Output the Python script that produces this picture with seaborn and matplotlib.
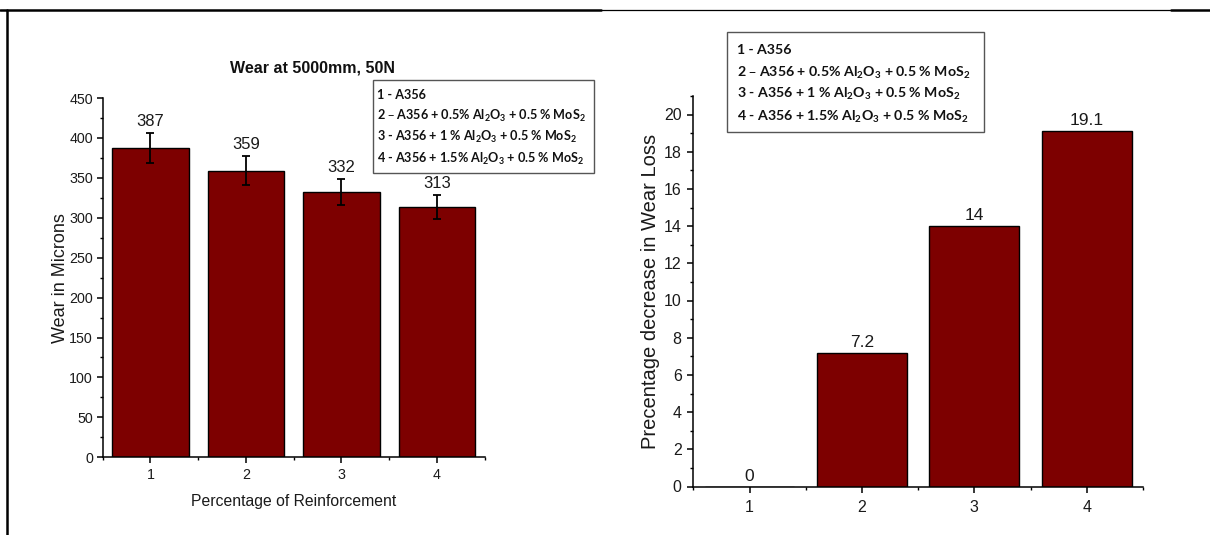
import matplotlib
matplotlib.use("Agg")
import matplotlib.pyplot as plt
from matplotlib.lines import Line2D
from matplotlib.patches import Rectangle
from matplotlib.ticker import MultipleLocator, AutoMinorLocator
import pandas as pd
import seaborn as sns

# ---- data -------------------------------------------------------------
samples = ["1", "2", "3", "4"]
wear_microns = [387, 359, 332, 313]
wear_error = [19, 18, 16, 15]
wear_decrease_pct = [0, 7.2, 14, 19.1]

wear_title = "Wear at 5000mm, 50N"
wear_xlabel = "Percentage of Reinforcement"
wear_ylabel = "Wear in Microns"
decrease_ylabel = "Precentage decrease in Wear Loss"

composition_key = [
    "1 - A356",
    r"2 – A356 + 0.5% Al$_{\mathregular{2}}$O$_{\mathregular{3}}$ + 0.5 % MoS$_{\mathregular{2}}$",
    r"3 - A356 + 1 % Al$_{\mathregular{2}}$O$_{\mathregular{3}}$ + 0.5 % MoS$_{\mathregular{2}}$",
    r"4 - A356 + 1.5% Al$_{\mathregular{2}}$O$_{\mathregular{3}}$ + 0.5 % MoS$_{\mathregular{2}}$",
]

BAR_COLOR = "#7d0000"
TEXT_COLOR = "#1a1a1a"

sns.set_style("ticks")
plt.rcParams["font.family"] = ["Liberation Sans", "DejaVu Sans"]

W, H = 1210, 535
fig = plt.figure(figsize=(W / 100, H / 100), dpi=100)


def px_rect(x0, y0, x1, y1):
    """Pixel box measured from the top-left corner -> figure fraction rect."""
    return [x0 / W, 1 - y1 / H, (x1 - x0) / W, (y1 - y0) / H]


ax_w = fig.add_axes(px_rect(102.7, 98.0, 484.6, 457.3))
ax_d = fig.add_axes(px_rect(693.3, 95.9, 1143.0, 486.5))


def style_axis(ax, label_size, xpad, ypad):
    sns.despine(ax=ax)
    for side in ("left", "bottom"):
        ax.spines[side].set_linewidth(1.1)
        ax.spines[side].set_color("black")
    ax.tick_params(which="major", direction="out", length=4.5, width=1.1,
                   color="black", labelsize=label_size, labelcolor=TEXT_COLOR)
    ax.tick_params(which="minor", direction="out", length=2.5, width=1.0,
                   color="black")
    ax.tick_params(axis="x", which="major", pad=xpad)
    ax.tick_params(axis="y", which="major", pad=ypad)
    ax.xaxis.set_minor_locator(AutoMinorLocator(2))
    ax.yaxis.set_minor_locator(AutoMinorLocator(2))
    ax.set_xlim(-0.5, 3.5)


# ---- left: absolute wear with error bars ------------------------------
wear_df = pd.DataFrame({"sample": samples, "wear": wear_microns})
sns.barplot(data=wear_df, x="sample", y="wear", order=samples,
            color=BAR_COLOR, saturation=1, width=0.8, edgecolor="black",
            linewidth=1.0, errorbar=None, ax=ax_w)
style_axis(ax_w, 10.3, 3.2, 2.5)
ax_w.set_ylim(0, 450)
ax_w.yaxis.set_major_locator(MultipleLocator(50))

centers = [p.get_x() + p.get_width() / 2 for p in ax_w.patches]
ax_w.errorbar(centers, wear_microns, yerr=wear_error, fmt="none",
              ecolor="black", elinewidth=1.3, capsize=3, capthick=1.3)
for c, v, e in zip(centers, wear_microns, wear_error):
    ax_w.annotate(f"{v:g}", xy=(c, v + e), xytext=(0, 3),
                  textcoords="offset points", ha="center", va="bottom",
                  fontsize=12, color=TEXT_COLOR)

ax_w.set_xlabel(wear_xlabel, fontsize=11.3, color=TEXT_COLOR)
ax_w.xaxis.label.set_verticalalignment("center")
ax_w.xaxis.set_label_coords(0.5, -0.1236)
ax_w.set_ylabel(wear_ylabel, fontsize=13, color=TEXT_COLOR)
ax_w.yaxis.label.set_verticalalignment("center")
ax_w.yaxis.set_label_coords(-0.1118, 0.5)

fig.text(312.5 / W, 1 - 68 / H, wear_title, ha="center", va="center",
         fontsize=11.5, fontweight="bold", color="#111111")

# ---- right: percentage decrease ---------------------------------------
dec_df = pd.DataFrame({"sample": samples, "decrease": wear_decrease_pct})
sns.barplot(data=dec_df, x="sample", y="decrease", order=samples,
            color=BAR_COLOR, saturation=1, width=0.8, edgecolor="black",
            linewidth=1.0, errorbar=None, ax=ax_d)
style_axis(ax_d, 11.5, 4.9, 3.9)
ax_d.set_ylim(0, 21)
ax_d.yaxis.set_major_locator(MultipleLocator(2))
ax_d.bar_label(ax_d.containers[0], fmt="{:g}", padding=2, fontsize=12.5,
               color=TEXT_COLOR)
ax_d.set_xlabel("")
ax_d.set_ylabel(decrease_ylabel, fontsize=14.5, color=TEXT_COLOR)
ax_d.yaxis.label.set_verticalalignment("center")
ax_d.yaxis.set_label_coords(-0.095, 0.5)


# ---- composition keys --------------------------------------------------
def key_box(x0, y0, x1, y1, text_x, baselines, size):
    fig.add_artist(Rectangle((x0 / W, 1 - y1 / H), (x1 - x0) / W,
                             (y1 - y0) / H, transform=fig.transFigure,
                             fill=False, edgecolor="#555555", linewidth=1.0))
    for yb, line in zip(baselines, composition_key):
        fig.text(text_x / W, 1 - yb / H, line, ha="left", va="baseline",
                 fontsize=size, fontweight="bold",
                 family=["Lato", "DejaVu Sans"], color="#111111")


key_box(372.7, 80.0, 594.3, 172.7, 377.0, [99, 120, 141, 162.5], 9.1)
key_box(727.3, 32.4, 984.4, 132.0, 737.0, [54, 77, 98, 120.5], 10.2)

# ---- page frame --------------------------------------------------------
top = 1 - 10 / H
fig.add_artist(Line2D([0, 601 / W], [top, top], color="black", lw=1.8,
                      transform=fig.transFigure))
fig.add_artist(Line2D([601 / W, 1171 / W], [top, top], color="black", lw=0.9,
                      transform=fig.transFigure))
fig.add_artist(Line2D([1171 / W, 1], [top, top], color="black", lw=1.8,
                      transform=fig.transFigure))
fig.add_artist(Line2D([7 / W, 7 / W], [0, top], color="black", lw=1.8,
                      transform=fig.transFigure))

fig.savefig("out.png", dpi=100, facecolor="white")
